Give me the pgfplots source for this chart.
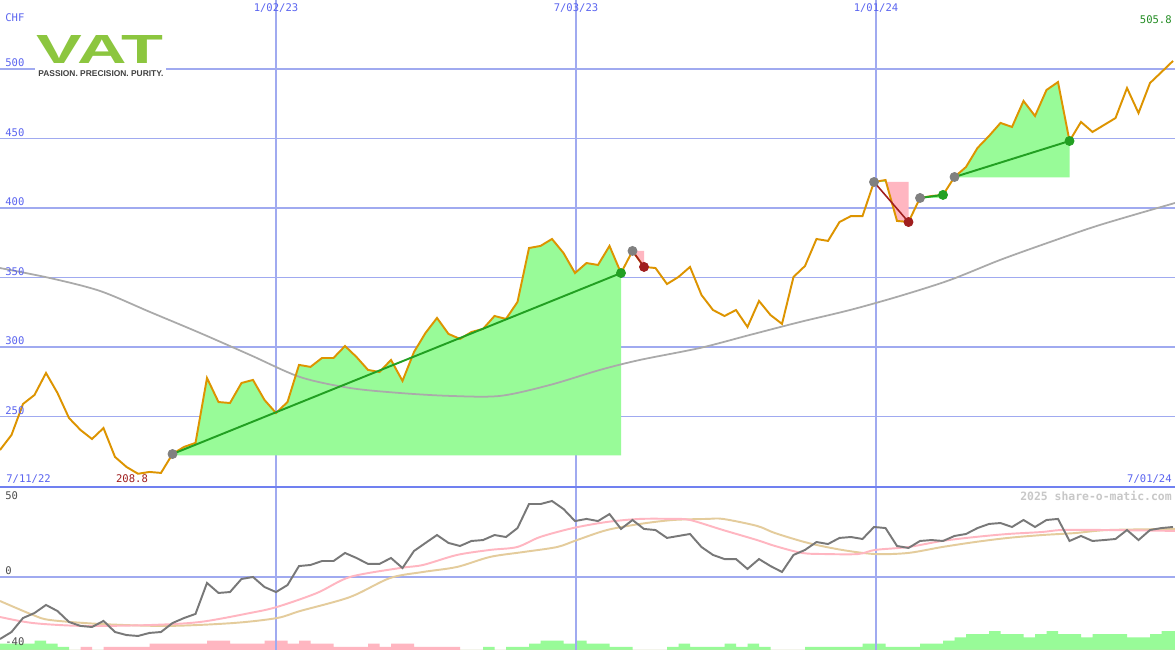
\documentclass[border=0pt]{standalone}
\usepackage{fontspec}
\setmainfont{DejaVu Sans}
\setmonofont{DejaVu Sans Mono}
\newfontfamily\logofont{Liberation Sans}
\usepackage{pgfplots}
\pgfplotsset{compat=1.18}
\usepackage{pgfplotstable}

\definecolor{gridblue}{RGB}{160,170,240}
\definecolor{sepblue}{RGB}{112,128,240}
\definecolor{labblue}{RGB}{90,100,240}
\definecolor{price}{RGB}{221,148,0}
\definecolor{mavg}{RGB}{170,170,170}
\definecolor{upfill}{RGB}{152,251,152}
\definecolor{trendgreen}{RGB}{34,160,34}
\definecolor{downfill}{RGB}{255,182,193}
\definecolor{trendred}{RGB}{160,30,30}
\definecolor{mgray}{RGB}{128,128,128}
\definecolor{oscgray}{RGB}{120,120,120}
\definecolor{oscpink}{RGB}{255,182,193}
\definecolor{osctan}{RGB}{228,204,156}
\definecolor{wmark}{RGB}{200,200,200}
\definecolor{logogreen}{RGB}{140,198,63}
\definecolor{lastgreen}{RGB}{34,140,34}

% weekly close, CHF (x = week index)
\pgfplotstableread{
i v
0 225.9
1 236.7
2 259.0
3 265.5
4 281.3
5 266.9
6 248.9
7 240.3
8 233.8
9 241.7
10 220.9
11 213.7
12 208.8
13 210.1
14 209.4
15 223.0
16 228.1
17 231.0
18 277.7
19 260.4
20 259.7
21 274.1
22 276.3
23 261.9
24 252.5
25 260.4
26 287.1
27 285.7
28 292.1
29 292.1
30 300.7
31 292.8
32 283.5
33 282.0
34 290.7
35 275.6
36 296.4
37 310.1
38 320.9
39 309.4
40 305.8
41 310.8
42 313.0
43 322.3
44 320.2
45 332.4
46 371.2
47 372.7
48 377.7
49 367.6
50 353.2
51 360.4
52 359.0
53 372.7
54 353.2
55 369.1
56 357.6
57 356.8
58 345.3
59 350.4
60 357.6
61 337.4
62 326.6
63 322.3
64 326.6
65 314.4
66 333.1
67 323.0
68 316.6
69 350.4
70 358.3
71 377.7
72 376.3
73 389.9
74 394.2
75 394.2
76 418.7
77 420.1
78 390.7
79 389.9
80 407.2
81 408.6
82 409.4
83 422.3
84 429.5
85 443.2
86 451.8
87 461.2
88 458.3
89 477.0
90 466.2
91 484.9
92 490.6
93 448.2
94 461.9
95 454.7
96 459.7
97 464.7
98 486.3
99 468.3
100 489.9
101 497.8
102 505.8
}\price

% long moving average
\pgfplotstableread{
i v
0 356.8
4.35 349.6
8.70 340.3
13.04 325.2
17.39 310.1
21.74 294.3
26.09 278.4
30.43 270.5
34.78 266.9
39.13 264.8
43.48 264.8
47.83 272.7
52.17 283.5
55.65 290.7
60.87 299.3
65.22 308.7
69.57 318.0
73.91 326.6
78.26 336.7
82.61 348.2
86.96 362.6
91.30 375.5
95.65 387.8
102.17 403.6
}\mavg

% oscillator
\pgfplotstableread{
i v
0 -40.8
1 -36.2
2 -27.0
3 -23.7
4 -18.4
5 -22.4
6 -29.6
7 -32.2
8 -32.9
9 -28.9
10 -36.2
11 -38.2
12 -38.8
13 -36.8
14 -36.2
15 -30.3
16 -27.0
17 -24.3
18 -3.9
19 -10.5
20 -9.9
21 -1.3
22 0.0
23 -6.6
24 -9.9
25 -5.3
26 7.2
27 7.9
28 10.5
29 10.5
30 15.8
31 12.5
32 8.6
33 8.6
34 12.5
35 5.9
36 17.1
37 22.4
38 27.6
39 22.4
40 20.4
41 23.7
42 24.3
43 27.6
44 26.3
45 32.2
46 48.0
47 48.0
48 50.0
49 44.7
50 36.8
51 38.2
52 36.8
53 41.4
54 31.6
55 37.5
56 31.6
57 30.9
58 25.7
59 27.0
60 28.3
61 19.7
62 14.5
63 11.8
64 11.8
65 5.3
66 11.8
67 7.2
68 3.3
69 14.5
70 17.8
71 23.0
72 21.7
73 25.7
74 26.3
75 25.0
76 32.9
77 32.2
78 20.4
79 19.1
80 23.7
81 24.3
82 23.7
83 27.0
84 28.3
85 32.2
86 34.9
87 35.5
88 32.9
89 37.5
90 32.9
91 37.5
92 38.2
93 23.7
94 27.0
95 23.7
96 24.3
97 25.0
98 30.9
99 24.3
100 30.9
101 32.2
102 32.9
}\osc

\pgfplotstableread{
i v
0 -26.3
2.87 -30.3
7.22 -32.2
13.04 -31.6
17.39 -29.6
21.74 -23.7
24.09 -19.7
27.57 -10.5
30.43 0.0
34.78 5.9
36.78 7.9
39.74 14.5
42.61 17.8
44.96 19.7
46.96 26.3
49.83 32.2
52.78 36.2
55.65 38.2
58.52 38.2
60.00 37.5
62.87 30.9
65.83 24.3
67.39 20.4
69.74 15.8
71.74 15.1
74.61 15.1
76.09 17.8
78.96 19.7
81.91 23.7
84.78 26.3
87.65 28.3
90.61 29.6
92.35 30.9
96.35 30.9
102.17 30.3
}\oscpink

\pgfplotstableread{
i v
0 -15.8
2.87 -25.0
4.35 -28.3
8.70 -30.9
14.52 -32.2
20.26 -30.3
24.09 -27.0
26.09 -22.4
30.43 -13.2
33.91 -0.7
36.78 3.3
39.74 6.6
42.61 13.2
45.48 16.4
48.43 19.7
50.17 24.3
52.78 30.9
55.65 34.9
58.52 37.5
61.48 38.2
62.87 38.2
65.83 33.6
67.39 28.9
70.26 22.4
73.22 17.8
76.09 15.1
78.96 15.8
81.91 19.7
84.78 23.0
87.65 25.7
90.61 27.6
93.48 28.9
96.35 30.9
102.17 31.6
}\osctan

\pgfplotsset{
  panel/.style={
    scale only axis, width=235mm,
    xmin=0, xmax=102.174,
    axis line style={draw=none},
    major tick length=0pt,
    xticklabels={}, yticklabels={},
    xtick={24,50.087,76.174},
    xmajorgrids, ymajorgrids,
    x grid style={gridblue, line width=0.6pt},
    y grid style={gridblue, line width=1.1pt},
  },
}
\tikzset{lab/.style={font=\fontsize{6}{7}\selectfont\ttfamily, text=labblue, inner sep=0pt}}

\begin{document}
\begin{tikzpicture}
\fill[white] (0,0) rectangle (235mm,130mm);
\useasboundingbox (0,0) rectangle (235mm,130mm);

% ---- upper panel: price
\begin{axis}[panel, at={(0mm,130mm)}, anchor=north west, height=97.4mm,
  ymin=199.28, ymax=549.64, ytick={250,300,...,500}]
  % trend areas
  \addplot[fill=upfill, draw=none] coordinates {
    (15,222)(15,223.0)(16,228.1)(17,231.0)(18,277.7)(19,260.4)(20,259.7)(21,274.1)
    (22,276.3)(23,261.9)(24,252.5)(25,260.4)(26,287.1)(27,285.7)(28,292.1)(29,292.1)
    (30,300.7)(31,292.8)(32,283.5)(33,282.0)(34,290.7)(35,275.6)(36,296.4)(37,310.1)
    (38,320.9)(39,309.4)(40,305.8)(41,310.8)(42,313.0)(43,322.3)(44,320.2)(45,332.4)
    (46,371.2)(47,372.7)(48,377.7)(49,367.6)(50,353.2)(51,360.4)(52,359.0)(53,372.7)
    (54,353.2)(54,222)};
  \addplot[fill=downfill, draw=none] coordinates {(55,369.1)(56,357.6)(56,369.1)};
  \addplot[fill=upfill, draw=none] coordinates {(76,418.7)(77,420.1)(77.05,418.7)};
  \addplot[fill=downfill, draw=none] coordinates {(77.05,418.7)(78,390.7)(79,389.9)(79,418.7)};
  \addplot[fill=upfill, draw=none] coordinates {(80,407.2)(81,408.6)(82,409.4)(82,407.2)};
  \addplot[fill=upfill, draw=none] coordinates {
    (83,422)(83,422.3)(84,429.5)(85,443.2)(86,451.8)(87,461.2)(88,458.3)(89,477.0)
    (90,466.2)(91,484.9)(92,490.6)(93,448.2)(93,422)};
  % moving average and price
  \addplot[mavg, line width=1pt, smooth] table[x=i, y=v] {\mavg};
  \addplot[price, line width=1.1pt] table[x=i, y=v] {\price};
  % trend lines
  \addplot[trendgreen, line width=1.1pt] coordinates {(15,223.0)(54,353.2)};
  \addplot[trendred, line width=0.9pt] coordinates {(55,369.1)(56,357.6)};
  \addplot[trendred, line width=0.9pt] coordinates {(76,418.7)(79,389.9)};
  \addplot[trendgreen, line width=1.1pt] coordinates {(80,407.2)(82,409.4)};
  \addplot[trendgreen, line width=1.1pt] coordinates {(83,422.3)(93,448.2)};
  % signal points
  \addplot[only marks, mark=*, mark size=2.6pt, mark options={draw=mgray, fill=mgray}]
    coordinates {(15,223.0)(55,369.1)(76,418.7)(80,407.2)(83,422.3)};
  \addplot[only marks, mark=*, mark size=2.6pt, mark options={draw=trendgreen, fill=trendgreen}]
    coordinates {(54,353.2)(82,409.4)(93,448.2)};
  \addplot[only marks, mark=*, mark size=2.6pt, mark options={draw=trendred, fill=trendred}]
    coordinates {(56,357.6)(79,389.9)};
\end{axis}

% ---- lower panel: histogram
\begin{axis}[scale only axis, width=235mm, height=32.6mm, at={(0mm,32.6mm)}, anchor=north west,
  xmin=0, xmax=102.174, ymin=0, ymax=51.7, hide axis]
  \addplot[const plot, fill=upfill, draw=none] coordinates {
    (0,2)(3,3)(4,2)(5,1)(6,0)(42,1)(43,0)(44,1)(46,2)(47,3)(49,2)(50,3)(51,2)(53,1)(55,0)
    (58,1)(59,2)(60,1)(63,2)(64,1)(65,2)(66,1)(67,0)(70,1)(75,2)(77,1)(80,2)(82,3)(83,4)
    (84,5)(86,6)(87,5)(89,4)(90,5)(91,6)(92,5)(94,4)(95,5)(98,4)(100,5)(101,6)(102.174,6)}
    \closedcycle;
  \addplot[const plot, fill=downfill, draw=none] coordinates {
    (0,0)(7,1)(8,0)(9,1)(13,2)(18,3)(20,2)(23,3)(25,2)(26,3)(27,2)(29,1)(32,2)(33,1)
    (34,2)(36,1)(40,0)(102.174,0)}
    \closedcycle;
\end{axis}

% ---- lower panel: oscillator
\begin{axis}[panel, at={(0mm,32.6mm)}, anchor=north west, height=32.6mm,
  ymin=-48.03, ymax=59.21, ytick={0}]
  \addplot[osctan, line width=1.1pt, smooth] table[x=i, y=v] {\osctan};
  \addplot[oscpink, line width=1.1pt, smooth] table[x=i, y=v] {\oscpink};
  \addplot[oscgray, line width=1.1pt] table[x=i, y=v] {\osc};
\end{axis}

% ---- frame texts (pixel grid of the original: 1 px = 0.2 mm, y downwards)
\begin{scope}[shift={(0mm,130mm)}, x=0.2mm, y=-0.2mm]
  \draw[sepblue, line width=1.1pt] (0,487) -- (1175,487);
  \node[lab, anchor=west] at (5,18) {CHF};
  \foreach \v/\y in {500/69, 450/138.5, 400/208, 350/277.5, 300/347, 250/416.5}
    \node[lab, anchor=south west] at (5,\y-1.5) {\v};
  \node[lab] at (276,8) {1/02/23};
  \node[lab] at (576,8) {7/03/23};
  \node[lab] at (876,8) {1/01/24};
  \node[lab, anchor=east, text=lastgreen] at (1172,20) {505.8};
  \node[lab, anchor=west] at (6,479) {7/11/22};
  \node[lab, text=trendred] at (132,479) {208.8};
  \node[lab, anchor=east] at (1172,479) {7/01/24};
  \node[lab, anchor=west, text=black!70] at (5,496) {50};
  \node[lab, anchor=west, text=black!70] at (5,571) {0};
  \node[lab, anchor=west, text=black!70] at (5,642) {-40};
  \node[anchor=east, inner sep=0pt, text=wmark, font=\fontsize{6.5}{7}\selectfont\ttfamily\bfseries]
    at (1172,496) {2025 share-o-matic.com};
  % logo on its own white ground
  \fill[white] (35,33) rectangle (166,78);
  \node[anchor=north west, inner sep=0pt, text=logogreen] at (36,35)
    {\resizebox{25.4mm}{5.6mm}{\logofont\bfseries VAT}};
  \node[anchor=north west, inner sep=0pt, text=black!75] at (38,70)
    {\resizebox{25mm}{!}{\logofont\bfseries PASSION. PRECISION. PURITY.}};
\end{scope}
\end{tikzpicture}
\end{document}
